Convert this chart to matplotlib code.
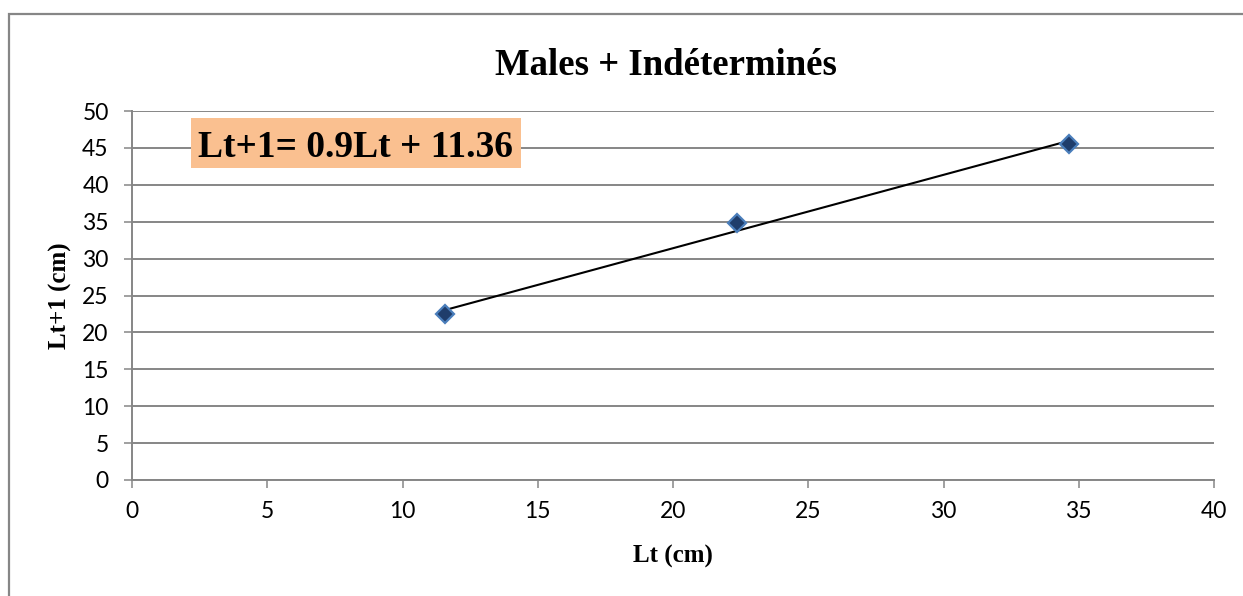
import numpy as np
import matplotlib.pyplot as plt
from matplotlib.patches import Rectangle

# growth pairs: length at age t vs length at age t+1
lt = [11.57, 22.38, 34.64]
lt_next = [22.49, 34.78, 45.49]

x_ticks = [0, 5, 10, 15, 20, 25, 30, 35, 40]
y_ticks = [0, 5, 10, 15, 20, 25, 30, 35, 40, 45, 50]

title = "Males + Indéterminés"
equation = "Lt+1= 0.9Lt + 11.36"

grey = "#868686"
W, H = 1243, 596

fig = plt.figure(figsize=(W / 100, H / 100), dpi=100)
ax = fig.add_axes([132 / W, 1 - 480 / H, (1214 - 132) / W, (480 - 111) / H])

# outer chart frame
fig.patches.append(Rectangle((8.5 / W, -0.1), 1.2, 1.1 - 13.5 / H,
                             transform=fig.transFigure, fill=False,
                             edgecolor=grey, linewidth=1.6))

ax.set_xlim(0, 40)
ax.set_ylim(0, 50)
ax.set_xticks(x_ticks)
ax.set_yticks(y_ticks)
ax.yaxis.grid(True, color=grey, linewidth=1.4)
ax.set_axisbelow(True)

for side in ["top", "right"]:
    ax.spines[side].set_visible(False)
for side in ["left", "bottom"]:
    ax.spines[side].set_color(grey)
    ax.spines[side].set_linewidth(1.4)

ax.tick_params(axis="both", direction="out", length=5.8, width=1.1,
               color=grey, labelsize=16.5)
ax.tick_params(axis="x", pad=9.5)
ax.tick_params(axis="y", pad=11)
for lab in ax.get_xticklabels() + ax.get_yticklabels():
    lab.set_fontfamily("Lato")

# linear trend over the data range
slope, icpt = np.polyfit(lt, lt_next, 1)
xs = np.array([min(lt), max(lt)])
ax.plot(xs, slope * xs + icpt, color="black", linewidth=1.5, zorder=3)

ax.plot(lt, lt_next, linestyle="none", marker="D", markersize=9.5,
        markerfacecolor="#1F3D6B", markeredgecolor="#4A7EBB",
        markeredgewidth=1.6, zorder=4)

fig.text(666 / W, 1 - 75 / H, title, ha="center", va="baseline",
         fontsize=26.5, fontweight="bold", family="Liberation Serif")

# equation box
fig.patches.append(Rectangle((191 / W, 1 - 168 / H), 330 / W, 50 / H,
                             transform=fig.transFigure,
                             facecolor="#FAC090", edgecolor="none", zorder=5))
fig.text(356 / W, 1 - 157 / H, equation, ha="center", va="baseline",
         fontsize=27, fontweight="bold", family="Liberation Serif", zorder=6)

fig.text(673 / W, 1 - 563 / H, "Lt (cm)", ha="center", va="baseline",
         fontsize=18, fontweight="bold", family="Liberation Serif")
fig.text(60 / W, 1 - 296 / H, "Lt+1 (cm)", ha="center", va="center",
         rotation=90, fontsize=18, fontweight="bold",
         family="Liberation Serif")

fig.savefig("out.png", dpi=100)
